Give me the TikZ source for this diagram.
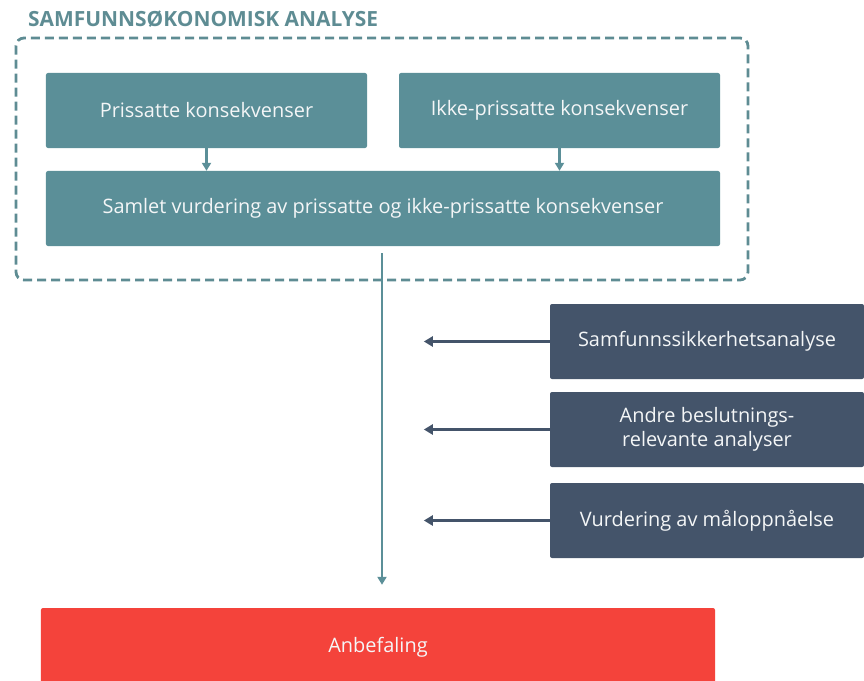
\documentclass[tikz,border=0pt]{standalone}
\usepackage{fontspec}
\setmainfont{Open Sans}
\usetikzlibrary{arrows.meta}
\definecolor{teal1}{HTML}{5B8F98}
\definecolor{tealdash}{HTML}{5E8C93}
\definecolor{dark1}{HTML}{44546A}
\definecolor{red1}{HTML}{F4433B}
\definecolor{txt}{HTML}{F4F6F7}
\begin{document}
\begin{tikzpicture}[x=1bp,y=-1bp,
  tbox/.style={fill=teal1,draw=none,rounded corners=2bp,text=txt,font=\fontsize{20}{24}\selectfont,inner sep=0pt},
  dbox/.style={fill=dark1,draw=none,rounded corners=2bp,text=txt,font=\fontsize{20}{24}\selectfont,align=center,inner sep=0pt,minimum width=314bp,minimum height=75bp},
  tarrow/.style={draw=teal1,line width=2.5bp,-{Triangle[length=8bp,width=9bp]}},
  darrow/.style={draw=dark1,line width=3bp,-{Triangle[length=9bp,width=10bp]}}]
\useasboundingbox (0,0) rectangle (864,681);
\clip (0,0) rectangle (864,681);
\node[anchor=west,text=tealdash,font=\bfseries\fontsize{21}{24}\selectfont,inner sep=0pt] (title) at (28,19) {SAMFUNNSØKONOMISK ANALYSE};
\node[draw=tealdash,line width=2.8bp,dash pattern=on 9bp off 5bp,rounded corners=8bp,minimum width=732bp,minimum height=242bp,inner sep=0pt] (frame) at (382,159) {};
\node[tbox,minimum width=321bp,minimum height=75bp] (A) at (206.5,110.5) {Prissatte konsekvenser};
\node[tbox,minimum width=321bp,minimum height=75bp] (B) at (559.5,110.5) {Ikke-prissatte konsekvenser};
\node[tbox,minimum width=674bp,minimum height=75bp] (C) at (383,208.5) {Samlet vurdering av prissatte og ikke-prissatte konsekvenser};
\node[dbox] (D1) at (707,341.5) {Samfunnssikkerhetsanalyse};
\node[dbox] (D2) at (707,429.5) {Andre beslutnings-\\relevante analyser};
\node[dbox] (D3) at (707,520.5) {Vurdering av måloppnåelse};
\node[fill=red1,draw=none,rounded corners=2bp,minimum width=674bp,minimum height=84bp,inner sep=0pt] (R) at (378,650) {};
\node[text=txt,font=\fontsize{20}{24}\selectfont,inner sep=0pt] (Rt) at (378,647) {Anbefaling};
\draw[tarrow] (A.south) -- (A.south |- C.north);
\draw[tarrow] (B.south) -- (B.south |- C.north);
\draw[tarrow,shorten <=7bp,shorten >=23bp] ([xshift=-1bp]C.south) -- ([xshift=-1bp]C.south |- R.north);
\draw[darrow] (D1.west) -- ++(-126,0);
\draw[darrow] (D2.west) -- ++(-126,0);
\draw[darrow] (D3.west) -- ++(-126,0);
\end{tikzpicture}
\end{document}
